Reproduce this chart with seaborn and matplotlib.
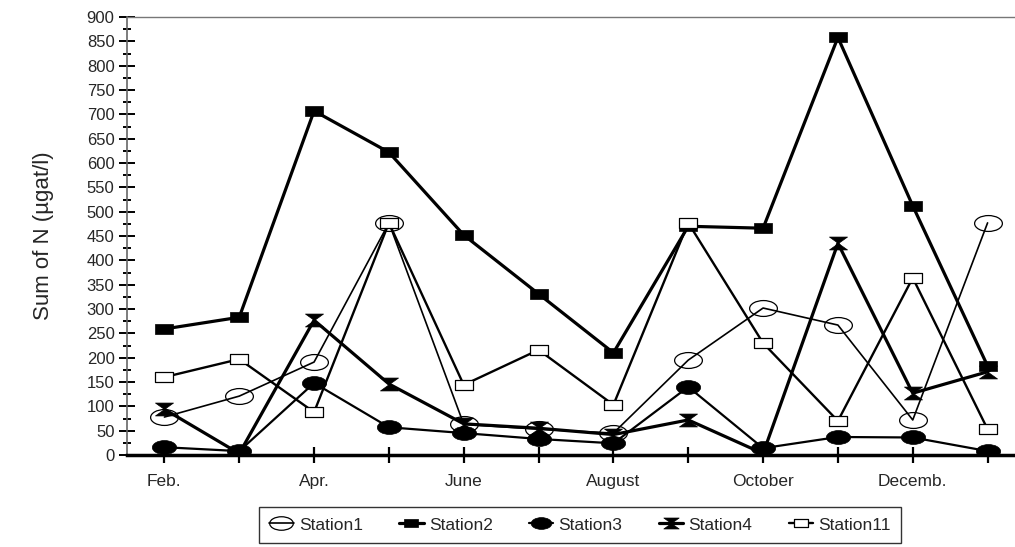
import numpy as np
import pandas as pd
import matplotlib
matplotlib.use("Agg")
import matplotlib.pyplot as plt
from matplotlib.path import Path
import seaborn as sns

# Data
months = ["Feb", "Mar", "Apr", "May", "Jun", "Jul",
          "Aug", "Sep", "Oct", "Nov", "Dec", "Jan"]
tick_labels = ["Feb.", "", "Apr.", "", "June", "", "August", "",
               "October", "", "Decemb.", ""]

station1 = [78, 121, 191, 477, 63, 53, 45, 195, 302, 267, 72, 477]
station2 = [259, 283, 707, 622, 452, 331, 210, 470, 466, 858, 512, 183]
station3 = [16, 8, 148, 57, 45, 33, 24, 140, 14, 37, 36, 8]
station4 = [94, 3, 277, 146, 64, 55, 42, 72, 3, 435, 127, 171]
station11 = [160, 197, 88, 477, 144, 216, 103, 477, 230, 70, 364, 53]

df = pd.DataFrame({"month": months, "Station1": station1, "Station2": station2,
                   "Station3": station3, "Station4": station4,
                   "Station11": station11})
df["x"] = np.arange(len(months))

# custom marker shapes
circ = Path.unit_circle()
ellipse = Path(circ.vertices * [1.75, 1.0], circ.codes)
rect = Path([(-1.7, -1), (1.7, -1), (1.7, 1), (-1.7, 1), (-1.7, -1)],
            [Path.MOVETO, Path.LINETO, Path.LINETO, Path.LINETO, Path.CLOSEPOLY])
hourglass = Path([(-1.4, 1), (1.4, 1), (0, 0), (1.4, -1), (-1.4, -1), (0, 0), (-1.4, 1)],
                 [Path.MOVETO, Path.LINETO, Path.LINETO, Path.LINETO,
                  Path.LINETO, Path.LINETO, Path.CLOSEPOLY])

styles = {
    "Station1": dict(marker=ellipse, markersize=20, markerfacecolor="none", lw=1.2, mew=0.9),
    "Station2": dict(marker=rect, markersize=12.5, markerfacecolor="black", lw=2.3, mew=0.5),
    "Station3": dict(marker=ellipse, markersize=17.5, markerfacecolor="black", lw=1.6, mew=0.5),
    "Station4": dict(marker=hourglass, markersize=13, markerfacecolor="black", lw=2.3, mew=0.5),
    "Station11": dict(marker=rect, markersize=12.5, markerfacecolor="white", lw=1.7, mew=0.9),
}

sns.set_theme(style="white")
plt.rcParams["font.family"] = ["Liberation Sans", "DejaVu Sans"]

fig = plt.figure(figsize=(10.15, 5.47), dpi=100)
ax = fig.add_axes([127 / 1015, 1 - 455 / 547, (1025 - 127) / 1015, (455 - 17) / 547])

for name, st in styles.items():
    sns.lineplot(data=df, x="x", y=name, ax=ax, color="black", label=name,
                 marker=st["marker"], markersize=st["markersize"],
                 markerfacecolor=st["markerfacecolor"], markeredgecolor="black",
                 markeredgewidth=st["mew"], linewidth=st["lw"], zorder=3)

ax.set_xlim(-0.5, 11.5)
ax.set_ylim(0, 900)
ax.set_xticks(df["x"])
ax.set_xticklabels(tick_labels, fontsize=12.5)
ax.set_yticks(np.arange(0, 901, 50))
ax.set_yticks(np.arange(0, 901, 25), minor=True)
ax.tick_params(axis="y", labelsize=12)
ax.tick_params(axis="y", which="major", direction="inout", length=12, width=1.4,
               color="black", left=True, pad=3)
ax.tick_params(axis="y", which="minor", direction="inout", length=6, width=1.4,
               color="black", left=True)
ax.tick_params(axis="x", which="major", direction="inout", length=11, width=1.6,
               color="black", bottom=True, pad=8)

ax.spines["right"].set_visible(False)
ax.spines["top"].set_color("#777777")
ax.spines["top"].set_linewidth(1.0)
ax.spines["left"].set_color("#666666")
ax.spines["left"].set_linewidth(1.2)
ax.spines["bottom"].set_color("black")
ax.spines["bottom"].set_linewidth(2.5)

ax.set_xlabel("")
ax.set_ylabel("Sum of N (µgat/l)", fontsize=16)
ax.yaxis.set_label_coords((54 - 127) / 898, 0.5)

ax.get_legend().remove()
handles, labels = ax.get_legend_handles_labels()
leg = fig.legend(handles, labels, loc="upper center", bbox_to_anchor=(580 / 1015, 1 - 507 / 547),
                 ncol=5, frameon=True, fancybox=False, fontsize=12.5, markerscale=0.85,
                 handlelength=1.4, handletextpad=0.3, columnspacing=2.1,
                 borderaxespad=0, borderpad=0.6)
leg.get_frame().set_edgecolor("black")
leg.get_frame().set_linewidth(1.0)

fig.savefig("out.png", dpi=100)
